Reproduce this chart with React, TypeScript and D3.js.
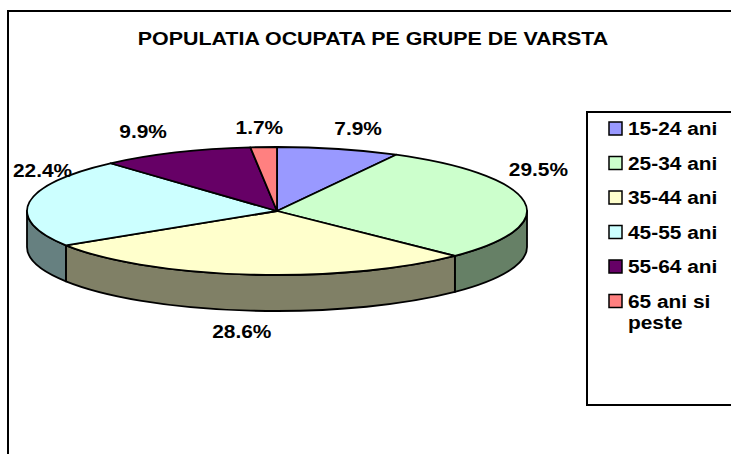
import React, { useEffect, useRef } from 'react';
import * as d3 from 'd3';

const title = 'POPULATIA OCUPATA PE GRUPE DE VARSTA';
const categories = ['15-24 ani', '25-34 ani', '35-44 ani', '45-55 ani', '55-64 ani', '65 ani si peste'];
const shares = [7.9, 29.5, 28.6, 22.4, 9.9, 1.7];
const colors = ['#9999FF', '#CCFFCC', '#FFFFCC', '#CCFFFF', '#660066', '#FF8080'];
// legend entries as they wrap in the box
const legendLines = [['15-24 ani'], ['25-34 ani'], ['35-44 ani'], ['45-55 ani'], ['55-64 ani'], ['65 ani si', 'peste']];

const W = 731;
const H = 454;
const FONT = '"Liberation Sans", Arial, sans-serif';
const SX = 1.16; // text in the original is a bit stretched horizontally

const App: React.FC = () => {
  const svgRef = useRef<SVGSVGElement>(null);

  useEffect(() => {
    if (!svgRef.current) return;
    const svg = d3.select(svgRef.current);
    svg.selectAll('*').remove();

    // chart frame (runs off the right/bottom of the picture)
    svg.append('rect')
      .attr('x', 8).attr('y', 11)
      .attr('width', W + 20).attr('height', H + 20)
      .attr('fill', 'white').attr('stroke', 'black').attr('stroke-width', 2);

    const addText = (g: any, x: number, y: number, txt: string, anchor = 'middle', sx = SX) =>
      g.append('text')
        .attr('transform', `translate(${x},${y}) scale(${sx},1)`)
        .attr('text-anchor', anchor)
        .attr('font-family', FONT)
        .attr('font-weight', 'bold')
        .attr('font-size', 18)
        .attr('fill', 'black')
        .text(txt);

    addText(svg, 373, 45, title, 'middle', 1.19);

    // pie geometry
    const cx = 277, cy = 211, rx = 250, ry = 64, depth = 36;
    const px = (a: number) => cx + rx * Math.sin(a);
    const py = (a: number) => cy - ry * Math.cos(a);

    const pie = d3.pie<number>().sort(null).value(d => d);
    const arcs = pie(shares);

    const shade = (c: string) => {
      const r = d3.rgb(c);
      return d3.rgb(r.r * 0.5, r.g * 0.5, r.b * 0.5).formatHex();
    };

    // front side walls
    const walls = svg.append('g');
    arcs.forEach((d, i) => {
      const a0 = Math.max(d.startAngle, Math.PI / 2);
      const a1 = Math.min(d.endAngle, (3 * Math.PI) / 2);
      if (a0 >= a1) return;
      const path = `M${px(a0)},${py(a0)} A${rx},${ry} 0 0 1 ${px(a1)},${py(a1)} ` +
        `L${px(a1)},${py(a1) + depth} A${rx},${ry} 0 0 0 ${px(a0)},${py(a0) + depth} Z`;
      walls.append('path')
        .attr('d', path)
        .attr('fill', shade(colors[i]))
        .attr('stroke', 'black')
        .attr('stroke-width', 1.8)
        .attr('stroke-linejoin', 'round');
    });

    // top face, circular arcs squashed into the ellipse
    const arc = d3.arc<d3.PieArcDatum<number>>().innerRadius(0).outerRadius(rx);
    svg.append('g')
      .attr('transform', `translate(${cx},${cy}) scale(1,${ry / rx})`)
      .selectAll('path')
      .data(arcs)
      .join('path')
      .attr('d', d => arc(d) || '')
      .attr('fill', (_, i) => colors[i])
      .attr('stroke', 'black')
      .attr('stroke-width', 1.8)
      .attr('stroke-linejoin', 'round')
      .attr('vector-effect', 'non-scaling-stroke');

    // percentage labels, kept inside the plot area
    const plotLeft = 13, plotRight = 568;
    const labels = svg.append('g');
    arcs.forEach(d => {
      const a = (d.startAngle + d.endAngle) / 2;
      let x = cx + 330 * Math.sin(a);
      const y = Math.cos(a) > -0.5
        ? cy - 34 - 50 * Math.cos(a) + 6.5
        : cy + ry + depth + 27;
      const t = addText(labels, x, y, `${d.data.toFixed(1)}%`);
      const w = (t.node() as SVGTextElement).getComputedTextLength() * SX;
      if (x - w / 2 < plotLeft) x = plotLeft + w / 2;
      if (x + w / 2 > plotRight) x = plotRight - w / 2;
      t.attr('transform', `translate(${x},${y}) scale(${SX},1)`);
    });

    // legend
    const lg = svg.append('g');
    lg.append('rect')
      .attr('x', 587).attr('y', 112)
      .attr('width', 170).attr('height', 293)
      .attr('fill', 'white').attr('stroke', 'black').attr('stroke-width', 2);
    const rowY = d3.scaleLinear().domain([0, categories.length - 1]).range([135, 307.5]);
    categories.forEach((c, i) => {
      const y = rowY(i);
      lg.append('rect')
        .attr('x', 609).attr('y', y - 13)
        .attr('width', 13).attr('height', 13)
        .attr('fill', colors[i]).attr('stroke', 'black').attr('stroke-width', 1.5);
      legendLines[i].forEach((line, j) => addText(lg, 628, y + j * 21, line, 'start'));
    });
  }, []);

  return (
    <svg
      ref={svgRef}
      width={W}
      height={H}
      style={{ position: 'absolute', left: 0, top: 0, background: 'white' }}
    />
  );
};

export default App;
